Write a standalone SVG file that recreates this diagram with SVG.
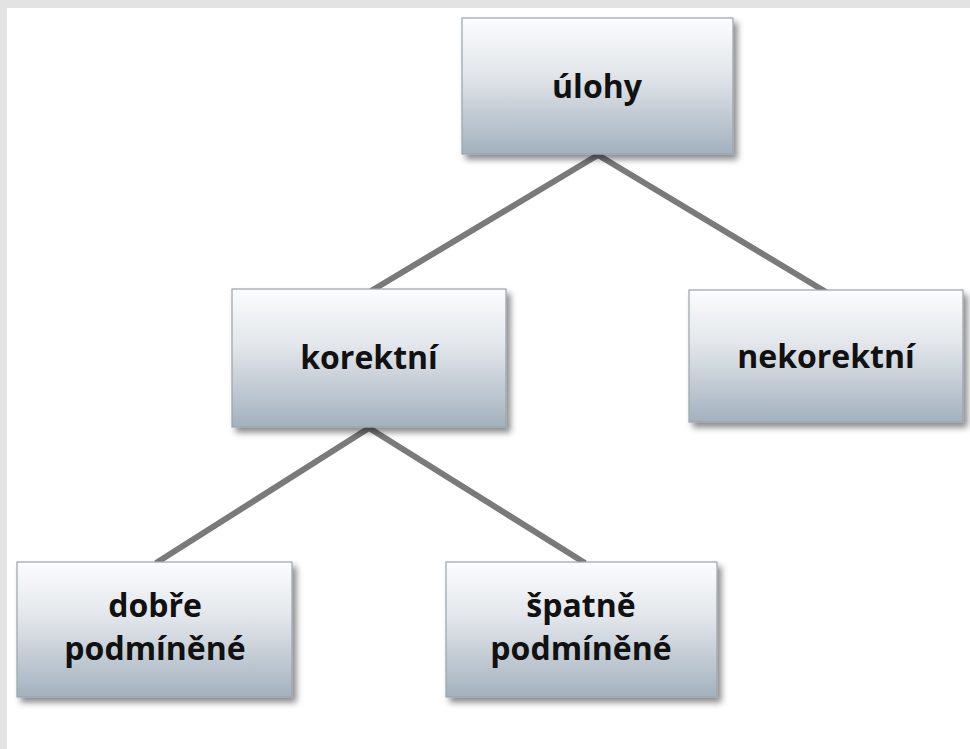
<svg xmlns="http://www.w3.org/2000/svg" width="970" height="749" viewBox="0 0 970 749">
<defs>
<linearGradient id="g" x1="0" y1="0" x2="0" y2="1">
<stop offset="0" stop-color="#fbfcfd"/>
<stop offset="0.4" stop-color="#e3e7eb"/>
<stop offset="1" stop-color="#a3b1be"/>
</linearGradient>
<filter id="sh" x="-10%" y="-10%" width="125%" height="130%">
<feDropShadow dx="4" dy="5" stdDeviation="3" flood-color="#000" flood-opacity="0.45"/>
</filter>
</defs>
<style>
.box{fill:url(#g);stroke:#9aa3ab;stroke-width:1.2;filter:url(#sh)}
.t{font-family:"Open Sans","DejaVu Sans",sans-serif;font-weight:bold;font-size:32px;fill:#111;text-anchor:middle}
.c{stroke:#7a7a7a;stroke-width:6;fill:none;stroke-linecap:butt}
</style>
<rect x="0" y="0" width="970" height="749" fill="#ffffff"/>
<rect x="0" y="0" width="970" height="8" fill="#e3e3e3"/>
<rect x="0" y="0" width="7" height="749" fill="#e3e3e3"/>
<g id="connectors">
<line class="c" x1="598" y1="155" x2="371" y2="291"/>
<line class="c" x1="598" y1="155" x2="826" y2="292"/>
<line class="c" x1="369" y1="428" x2="156" y2="563"/>
<line class="c" x1="369" y1="428" x2="585" y2="563"/>
</g>
<g id="n-ulohy">
<rect class="box" x="462" y="18" width="271" height="136"/>
<text class="t" x="597" y="98">úlohy</text>
</g>
<g id="n-korektni">
<rect class="box" x="232" y="289" width="274" height="138"/>
<text class="t" x="369" y="369">korektní</text>
</g>
<g id="n-nekorektni">
<rect class="box" x="689" y="290" width="274" height="132"/>
<text class="t" x="826" y="368">nekorektní</text>
</g>
<g id="n-dobre">
<rect class="box" x="17" y="562" width="275" height="135"/>
<text class="t" x="155" y="617">dobře</text>
<text class="t" x="155" y="660">podmíněné</text>
</g>
<g id="n-spatne">
<rect class="box" x="446" y="562" width="271" height="135"/>
<text class="t" x="581" y="617">špatně</text>
<text class="t" x="581" y="660">podmíněné</text>
</g>
</svg>
